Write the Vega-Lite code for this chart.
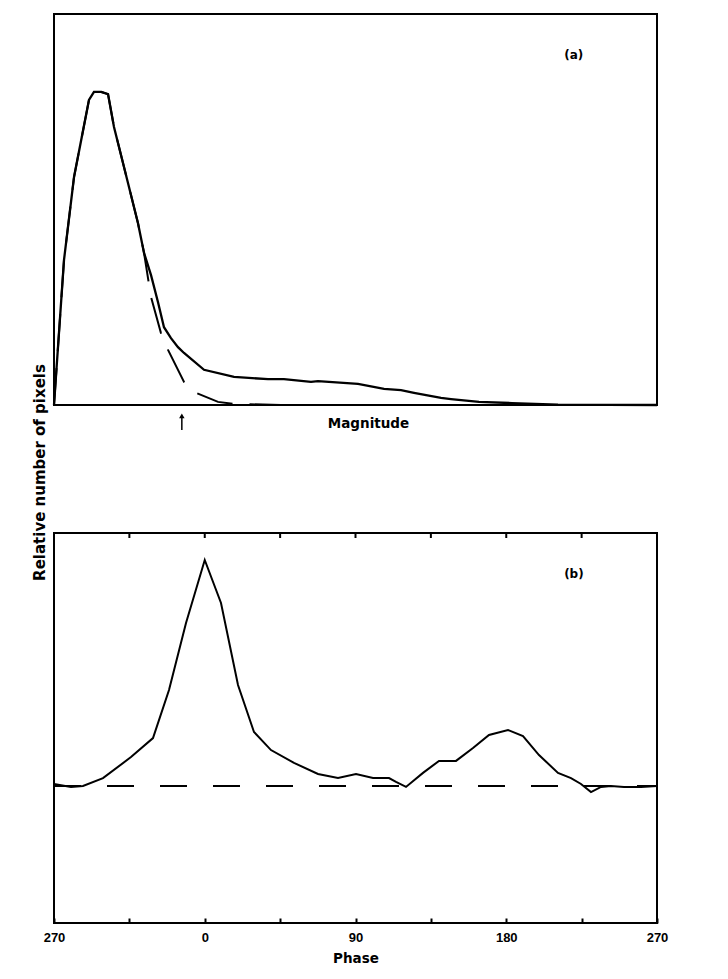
{
  "$schema": "https://vega.github.io/schema/vega-lite/v6.json",
  "background": "white",
  "padding": {"left": 31, "top": 13, "right": 5, "bottom": 5},
  "bounds": "flush",
  "spacing": 128,
  "config": {
    "view": {"stroke": "black", "strokeWidth": 2},
    "axis": {"grid": false},
    "font": "DejaVu Sans"
  },
  "vconcat": [
    {
      "width": 603,
      "height": 391,
      "layer": [
        {
          "data": {"values": [
            {"magnitude": 0, "count": 0},
            {"magnitude": 1.66, "count": 37.1},
            {"magnitude": 3.32, "count": 58.3},
            {"magnitude": 5.8, "count": 78.0},
            {"magnitude": 6.63, "count": 80.1},
            {"magnitude": 7.79, "count": 80.1},
            {"magnitude": 8.96, "count": 79.5},
            {"magnitude": 9.95, "count": 71.1},
            {"magnitude": 12.27, "count": 56.8},
            {"magnitude": 13.93, "count": 46.5},
            {"magnitude": 14.93, "count": 38.9},
            {"magnitude": 16.09, "count": 33.2},
            {"magnitude": 17.25, "count": 26.3},
            {"magnitude": 18.24, "count": 19.9},
            {"magnitude": 19.4, "count": 17.1},
            {"magnitude": 20.56, "count": 14.8},
            {"magnitude": 21.56, "count": 13.3},
            {"magnitude": 24.88, "count": 9.0},
            {"magnitude": 29.85, "count": 7.2},
            {"magnitude": 35.49, "count": 6.6},
            {"magnitude": 38.14, "count": 6.6},
            {"magnitude": 42.62, "count": 5.9},
            {"magnitude": 43.78, "count": 6.1},
            {"magnitude": 50.41, "count": 5.4},
            {"magnitude": 54.73, "count": 4.1},
            {"magnitude": 57.55, "count": 3.8},
            {"magnitude": 59.7, "count": 3.1},
            {"magnitude": 64.18, "count": 1.8},
            {"magnitude": 65.84, "count": 1.5},
            {"magnitude": 70.48, "count": 0.8},
            {"magnitude": 75.95, "count": 0.5},
            {"magnitude": 83.58, "count": 0.1},
            {"magnitude": 100, "count": 0}
          ]},
          "mark": {"type": "line", "color": "black", "strokeWidth": 2.3},
          "encoding": {
            "x": {
              "field": "magnitude", "type": "quantitative",
              "scale": {"domain": [0, 100], "nice": false},
              "axis": {
                "labels": false, "ticks": false, "domain": false, "grid": false,
                "title": "Magnitude", "titleX": 314, "titleY": 18,
                "titleAlign": "center", "titleBaseline": "middle",
                "titleFont": "DejaVu Sans", "titleFontSize": 13.5, "titleFontWeight": "bold", "titleColor": "black"
              }
            },
            "y": {
              "field": "count", "type": "quantitative",
              "scale": {"domain": [0, 100], "nice": false},
              "axis": {
                "labels": false, "ticks": false, "domain": false, "grid": false,
                "title": "Relative number of pixels", "titleAngle": 270,
                "titleX": -15, "titleY": 458, "titleAlign": "center", "titleBaseline": "middle",
                "titleFont": "DejaVu Sans", "titleFontSize": 15, "titleFontWeight": "bold", "titleColor": "black"
              }
            }
          }
        },
        {
          "data": {"values": [
            {"magnitude": 0, "count": 0},
            {"magnitude": 1.66, "count": 37.1},
            {"magnitude": 3.32, "count": 58.3},
            {"magnitude": 5.8, "count": 78.0},
            {"magnitude": 6.63, "count": 80.1},
            {"magnitude": 7.79, "count": 80.1},
            {"magnitude": 8.96, "count": 79.5},
            {"magnitude": 9.95, "count": 71.1},
            {"magnitude": 12.27, "count": 56.8},
            {"magnitude": 13.93, "count": 46.5},
            {"magnitude": 14.93, "count": 38.9},
            {"magnitude": 16.09, "count": 27.6},
            {"magnitude": 17.74, "count": 18.4},
            {"magnitude": 18.91, "count": 14.1},
            {"magnitude": 21.56, "count": 5.9},
            {"magnitude": 23.55, "count": 3.1},
            {"magnitude": 27.2, "count": 0.8},
            {"magnitude": 29.68, "count": 0.3},
            {"magnitude": 37.6, "count": 0},
            {"magnitude": 100, "count": 0}
          ]},
          "mark": {"type": "line", "color": "black", "strokeWidth": 2, "strokeDash": [37, 17]},
          "encoding": {
            "x": {"field": "magnitude", "type": "quantitative"},
            "y": {"field": "count", "type": "quantitative"}
          }
        },
        {
          "data": {"values": [{"magnitude": 21.2, "count": -2.8, "count2": -6.4}]},
          "mark": {"type": "rule", "color": "black", "strokeWidth": 1.5},
          "encoding": {
            "x": {"field": "magnitude", "type": "quantitative"},
            "y": {"field": "count", "type": "quantitative"},
            "y2": {"field": "count2"}
          }
        },
        {
          "data": {"values": [{"magnitude": 21.2, "count": -2.8}]},
          "mark": {"type": "point", "shape": "triangle-up", "filled": true, "color": "black", "size": 30, "opacity": 1},
          "encoding": {
            "x": {"field": "magnitude", "type": "quantitative"},
            "y": {"field": "count", "type": "quantitative"}
          }
        },
        {
          "data": {"values": [{"magnitude": 86.2, "count": 89.5, "label": "(a)"}]},
          "mark": {"type": "text", "font": "DejaVu Sans", "fontSize": 12, "fontWeight": "bold", "color": "black"},
          "encoding": {
            "x": {"field": "magnitude", "type": "quantitative"},
            "y": {"field": "count", "type": "quantitative"},
            "text": {"field": "label", "type": "nominal"}
          }
        }
      ]
    },
    {
      "width": 603,
      "height": 390,
      "layer": [
        {
          "data": {"values": [{"start": -90, "end": 270, "level": 0}]},
          "mark": {"type": "rule", "color": "black", "strokeWidth": 2, "strokeDash": [27, 26]},
          "encoding": {
            "x": {"field": "start", "type": "quantitative"},
            "x2": {"field": "end"},
            "y": {"field": "level", "type": "quantitative", "axis": null}
          }
        },
        {
          "data": {"values": [
            {"phase": -45, "edge": 1.1195, "inner": 1.0974},
            {"phase": 0, "edge": 1.1195, "inner": 1.0974},
            {"phase": 45, "edge": 1.1195, "inner": 1.0974},
            {"phase": 90, "edge": 1.1195, "inner": 1.0974},
            {"phase": 135, "edge": 1.1195, "inner": 1.0974},
            {"phase": 180, "edge": 1.1195, "inner": 1.0974},
            {"phase": 225, "edge": 1.1195, "inner": 1.0974}
          ]},
          "mark": {"type": "rule", "color": "black", "strokeWidth": 2},
          "encoding": {
            "x": {"field": "phase", "type": "quantitative"},
            "y": {"field": "edge", "type": "quantitative", "axis": null},
            "y2": {"field": "inner"}
          }
        },
        {
          "data": {"values": [
            {"phase": -90, "value": 0.009},
            {"phase": -79.85, "value": -0.004},
            {"phase": -72.69, "value": 0},
            {"phase": -60.75, "value": 0.035},
            {"phase": -44.03, "value": 0.128},
            {"phase": -30.9, "value": 0.212},
            {"phase": -21.34, "value": 0.425},
            {"phase": -11.19, "value": 0.721},
            {"phase": 0, "value": 1},
            {"phase": 9.7, "value": 0.81},
            {"phase": 19.85, "value": 0.447},
            {"phase": 29.4, "value": 0.239},
            {"phase": 39.55, "value": 0.159},
            {"phase": 53.28, "value": 0.102},
            {"phase": 67.61, "value": 0.053},
            {"phase": 79.55, "value": 0.035},
            {"phase": 90.3, "value": 0.053},
            {"phase": 100.45, "value": 0.035},
            {"phase": 110, "value": 0.035},
            {"phase": 114.18, "value": 0.018},
            {"phase": 120.15, "value": -0.004},
            {"phase": 130.3, "value": 0.058},
            {"phase": 139.85, "value": 0.111},
            {"phase": 150, "value": 0.111},
            {"phase": 160.15, "value": 0.168},
            {"phase": 169.7, "value": 0.226},
            {"phase": 181.04, "value": 0.248},
            {"phase": 190, "value": 0.221},
            {"phase": 199.55, "value": 0.137},
            {"phase": 210.9, "value": 0.058},
            {"phase": 218.66, "value": 0.035},
            {"phase": 224.63, "value": 0.009},
            {"phase": 230.6, "value": -0.027},
            {"phase": 236.57, "value": -0.004},
            {"phase": 242.54, "value": 0},
            {"phase": 250.3, "value": -0.004},
            {"phase": 260.45, "value": -0.004},
            {"phase": 270, "value": 0}
          ]},
          "mark": {"type": "line", "color": "black", "strokeWidth": 2},
          "encoding": {
            "x": {
              "field": "phase", "type": "quantitative",
              "scale": {"domain": [-90, 270], "nice": false},
              "axis": {
                "orient": "bottom",
                "values": [-90, -45, 0, 45, 90, 135, 180, 225, 270],
                "labelExpr": "datum.value == -90 ? '270' : (datum.value % 90 == 0 ? datum.label : '')",
                "tickSize": -5, "tickWidth": 2, "tickColor": "black",
                "domain": false, "grid": false,
                "labelPadding": 13, "labelFlush": false, "labelOverlap": false, "labelBound": false,
                "labelFont": "Liberation Sans", "labelFontSize": 13, "labelFontWeight": "bold", "labelColor": "black",
                "title": "Phase", "titleY": 35, "titleBaseline": "middle",
                "titleFont": "DejaVu Sans", "titleFontSize": 13.5, "titleFontWeight": "bold", "titleColor": "black"
              }
            },
            "y": {
              "field": "value", "type": "quantitative",
              "scale": {"domain": [-0.6062, 1.1195], "nice": false, "zero": false},
              "axis": null
            }
          }
        },
        {
          "data": {"values": [{"phase": 220.4, "value": 0.938, "label": "(b)"}]},
          "mark": {"type": "text", "font": "DejaVu Sans", "fontSize": 12, "fontWeight": "bold", "color": "black"},
          "encoding": {
            "x": {"field": "phase", "type": "quantitative"},
            "y": {"field": "value", "type": "quantitative", "axis": null},
            "text": {"field": "label", "type": "nominal"}
          }
        }
      ]
    }
  ]
}
